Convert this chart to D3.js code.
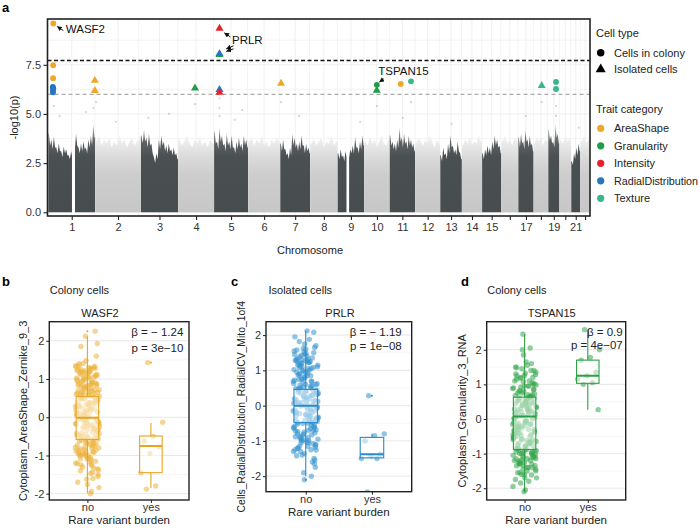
<!DOCTYPE html>
<html><head><meta charset="utf-8">
<script src="https://cdn.jsdelivr.net/npm/d3@7"></script>
<style>body{margin:0;background:#fff}svg{display:block;font-family:"Liberation Sans",Arial,Helvetica,sans-serif}</style>
</head><body><svg id="chart" width="700" height="528"></svg>
<script>
// ---------------- DATA ----------------
const chromosomes = ["1","2","3","4","5","6","7","8","9","10","11","12","13","14","15","16","17","18","19","20","21","22"];
const chrLengthMb = [249.25,243.2,198.0,191.15,180.9,171.1,159.1,146.4,141.2,135.5,135.0,133.85,115.2,107.35,102.5,90.35,81.2,78.1,59.1,63.0,48.1,51.3];
const chrTickLabels = ["1","2","3","4","5","6","7","8","9","10","11","12","13","14","15","","17","","19","","21",""];
// upper edge of the dense background cloud (-log10 p), read per chromosome from left to right
const skyline = [
  [4.0,3.4,3.7,3.2,3.85,3.3,3.3,3.0,3.5,3.1,3.1,2.8,3.35,3.0,3.2,2.9,2.9,2.7,3.1,2.8,3.6,3.2,4.0,3.4,3.3,3.0,3.5,3.1,3.6,3.2,3.3,3.0,3.7,3.3,3.9,3.4,4.5,3.8],
  [3.6,3.9,3.4,3.7,3.5,3.8,3.3,3.6,3.4,3.9,3.5,3.7,3.3,3.6,3.8,3.4,3.6,3.9],
  [3.9,3.5,4.2,3.6,3.8,3.3,4.0,3.4,3.5,3.0,2.8,2.5,3.0,2.7,3.7,3.2,3.9,3.4,3.6,3.1,3.4,3.0,3.5,3.1,3.2,2.9,3.3,2.9,3.0,2.7],
  [3.7,3.4,3.6,3.9,3.5,3.3,3.7,3.5,3.8,3.4,3.6,3.3,3.7,3.5],
  [4.1,3.5,3.6,3.2,4.3,3.6,3.9,3.4,3.5,3.1,4.0,3.4,3.6,3.2,3.9,3.3,3.3,3.0,3.6,3.2,3.8,3.3,3.5,3.1,3.9,3.4,3.7,3.3],
  [3.6,3.8,3.4,3.7,3.5,3.9,3.4,3.6,3.3,3.7,3.5,3.8,3.6],
  [3.5,3.1,3.7,3.2,3.2,2.9,3.0,2.7,3.3,2.9,4.0,3.4,3.8,3.3,3.5,3.1,3.6,3.2,3.9,3.4,3.4,3.0,3.5,3.1,3.3,3.0],
  [3.5,3.7,3.4,3.6,3.8,3.3,3.6,3.5,3.9,3.4,3.6],
  [3.0,2.7,3.2,2.8,2.9,2.6,3.1,2.8,3.0,2.8,3.2,3.0,3.4,3.0,3.8,3.3,3.3,3.0,3.6,3.2,3.9,3.4],
  [3.6,3.4,3.8,3.5,3.7,3.3,3.6,3.9,3.5,3.4,3.7],
  [3.9,3.4,3.6,3.2,3.5,3.1,3.7,3.3,4.3,3.6,3.8,3.3,4.0,3.5,3.6,3.2,3.9,3.4,3.7,3.3,3.5,3.1],
  [3.5,3.8,3.6,3.4,3.7,3.5,3.9,3.6,3.3,3.7,3.5],
  [2.9,2.6,3.3,2.9,3.0,2.7,3.5,3.0,3.9,3.3,3.4,3.0,3.2,2.9,3.6,3.1,3.0,2.7],
  [3.4,3.7,3.5,3.8,3.4,3.6,3.5,3.9,3.6],
  [3.0,2.7,3.2,2.9,3.4,3.0,3.3,2.9,3.6,3.2,3.9,3.4,3.7,3.3,3.4,3.0],
  [3.6,3.9,3.5,3.7,3.4,3.8,3.6],
  [3.8,3.3,4.0,3.5,3.6,3.2,4.2,3.6,3.7,3.3,3.9,3.4,3.5,3.1],
  [3.5,3.8,3.6,3.9,3.4,3.7,3.6],
  [4.2,3.7,3.9,3.5,3.6,3.3,4.5,3.8,4.0,3.5],
  [3.7,3.5,3.9,3.6,3.8],
  [2.6,2.4,3.0,2.7,3.3,2.9,3.5,3.1],
  [3.6,3.9,3.5,3.7]
];
const gapChr = [1, 9];
const gapStartMb = [126, 47];
const gapEndMb = [142, 61];
const yTicksA = [0, 2.5, 5, 7.5];
const genomeWideLine = 7.72;
const suggestiveLine = 6.0;
// significant hits: chromosome, position (Mb), -log10(p), trait category, cell type (0 colony, 1 isolated)
const hits = [
  [1, 26.8, 9.60, "AreaShape", 0],
  [1, 26.0, 7.48, "AreaShape", 0],
  [1, 25.5, 6.82, "AreaShape", 0],
  [1, 24.0, 6.38, "RadialDistribution", 0],
  [1, 26.5, 6.30, "RadialDistribution", 0],
  [1, 25.0, 6.22, "RadialDistribution", 0],
  [1, 24.6, 6.10, "RadialDistribution", 0],
  [1, 247.5, 6.70, "AreaShape", 1],
  [1, 247.5, 6.19, "AreaShape", 1],
  [4, 90.0, 6.31, "Granularity", 1],
  [5, 29.0, 9.35, "Intensity", 1],
  [5, 29.0, 8.02, "Granularity", 1],
  [5, 29.0, 8.06, "RadialDistribution", 1],
  [5, 29.0, 6.24, "RadialDistribution", 1],
  [5, 29.0, 6.10, "Intensity", 1],
  [7, 4.4, 6.55, "AreaShape", 1],
  [10, 67.0, 6.48, "Granularity", 0],
  [10, 67.0, 6.20, "Granularity", 1],
  [11, 58.8, 6.53, "AreaShape", 0],
  [11, 113.6, 6.66, "Texture", 0],
  [18, 43.3, 6.44, "Texture", 1],
  [19, 41.3, 6.63, "Texture", 0],
  [19, 41.3, 6.27, "Texture", 0]
];
// faint background points above the dense cloud: chromosome, Mb, -log10(p)
const faintHits = [
  [1,30,5.4],[1,60,4.9],[1,200,5.1],[1,240,5.3],[2,5,5.6],[2,110,4.6],[3,40,4.8],[3,150,5.0],
  [4,90,5.5],[5,29,5.8],[5,29,5.3],[5,29,4.9],[5,110,4.7],[5,150,5.2],[7,4,5.6],[7,100,4.9],
  [9,120,4.6],[10,67,5.4],[11,70,4.8],[11,113,5.6],[13,60,4.5],[17,40,4.9],[18,43,5.6],
  [19,41,5.4],[19,41,4.9],[21,40,4.3]
];
const geneLabels = ["WASF2", "PRLR", "TSPAN15"];
const traitCategories = ["AreaShape","Granularity","Intensity","RadialDistribution","Texture"];
const traitColors = ["#EEA72A","#1F9E49","#E8202B","#2676C2","#3BB58E"];
const cellTypes = ["Cells in colony","Isolated cells"];

// box plots
const burden = ["no","yes"];
const boxTicks = [-2,-1,0,1,2];
const wasf2No = [0.12,-0.43,1.27,0.58,-0.86,0.03,-1.21,0.91,-0.27,0.44,1.05,-0.62,0.21,-0.08,1.32,-1.47,0.67,-0.35,0.83,-0.94,0.36,1.18,-0.15,-0.71,0.52,2.25,-1.02,0.09,0.77,-0.51,1.93,-0.22,0.31,-1.33,0.98,-0.79,0.15,1.12,-0.04,-1.62,0.62,-0.39,1.41,-0.57,0.26,-0.97,0.71,2.12,-0.18,-1.12,0.48,0.87,-0.68,1.24,-0.31,0.05,-1.84,0.39,-0.83,1.08,0.18,-0.47,-1.27,0.95,-0.11,0.57,1.36,-0.75,-0.25,0.29,-1.06,0.81,1.6,-0.55,0.11,-0.9,0.66,-1.38,1.2,-0.02,0.42,-0.66,1.02,-1.94,0.24,-0.36,0.74,-0.87,1.3,-0.13,0.55,-1.17,1.85,-0.48,0.33,-0.73,0.92,-0.06,-1.55,0.61,1.15,-0.29,-0.98,0.19,1.27,-0.6,0.46,-1.76,0.84,-0.2,0.07,-0.8,1.0,-1.09,0.36,1.48,-0.41,0.69,-1.3,0.14,-0.53,0.88,-0.92,1.22,-0.16,-2.0,0.5,-0.7,1.1,0.27,-1.44,0.79,-0.33,0.02,-1.0,1.33,-0.58,0.6,-1.23,0.93,-0.09,
  0.35,-0.45,1.05,-0.85,0.72,-0.2,1.25,-1.15,0.15,0.95,-0.6,0.5,-1.35,1.15,-0.05,0.62,-0.78,1.35,0.22,-0.98,0.83,-0.32,0.4,-1.6,1.0,-0.12,0.68,-0.52,1.28,-0.9,0.05,0.88,-0.4,1.1,-1.05,0.3,-0.68,0.75,-0.25,1.2,-1.25,0.45,-0.15,0.98,-0.75,0.58,-1.5,1.3,0.1,-0.55,0.8,-0.88,0.25,1.18,-0.35,-1.1,0.7,-0.62,1.05,-0.18,0.38,-1.4,0.9,-0.45,1.22,-0.8,0.02,0.65,-1.0,1.4,-0.28,0.48,-1.2,0.85,-0.5,1.12,-0.08,-1.7,0.55,-0.95];
const wasf2Yes = [1.43,-0.13,-0.5,-0.62,-0.78,-0.95,-1.45,-1.8,-1.88];
const wasf2BoxNo = [-1.99,-0.58,-0.01,0.54,2.12];   // lower whisker, Q1, median, Q3, upper whisker
const wasf2BoxYes = [-1.85,-1.45,-0.75,-0.49,-0.15];
const wasf2OutNo = [2.25], wasf2OutYes = [1.43];

const prlrNo = [0.08,-0.35,1.22,0.47,-0.62,1.75,-0.12,0.85,-1.05,0.31,1.4,-0.48,0.02,-0.81,0.63,1.88,-0.22,-1.18,0.95,0.17,-0.56,1.3,-0.05,-0.91,0.38,2.08,-1.36,0.72,-0.28,1.12,-0.68,0.24,1.58,-1.6,0.53,-0.15,-0.99,0.89,1.65,-0.41,0.11,-1.25,0.76,-0.02,1.26,-0.74,0.42,-1.9,1.02,-0.31,0.58,-1.12,1.48,-0.19,0.29,-0.85,1.15,-0.5,0.05,-1.5,0.81,1.95,-0.65,0.35,-0.09,-1.03,1.33,-0.38,0.66,-1.3,0.19,1.08,-0.77,-0.25,0.49,-2.0,1.2,-0.45,0.92,-1.21,0.13,1.52,-0.59,0.27,-0.88,1.7,-0.03,-1.42,0.56,1.0,-0.33,-0.7,0.74,-1.65,0.21,1.28,-0.14,-0.95,0.44,2.12,-0.52,-1.08,0.98,0.07,-0.4,1.38,-1.75,0.6,-0.21,-0.83,1.1,0.33,-1.15,0.86,-0.6,-2.1,1.45,-0.08,0.5,-1.26,0.15,1.25,-0.47,-0.97,0.69,-0.27,1.82,-1.55,0.4,-0.72,1.05,-0.01,
  0.62,-0.3,1.15,-0.7,0.25,1.55,-0.45,0.9,-1.1,0.4,1.3,-0.2,0.75,-0.95,1.05,0.1,-0.55,1.45,-1.25,0.5,1.2,-0.35,0.85,-0.8,0.3,1.62,-0.62,1.0,-1.15,0.15,1.28,-0.42,0.7,-1.0,1.1,-0.12,0.45,1.5,-0.75,0.2,1.25,-1.3,0.6,-0.25,0.95,1.35,-0.5,0.35,-1.05,1.18,-0.15,0.8,-0.88,0.55,1.42,-0.38,0.05,-1.2,1.08,0.28,-0.65,1.22,-0.92,0.42,1.6,-0.28,0.68,-1.4,0.12,1.32];
const prlrYes = [0.28,-0.8,-0.85,-1.0,-1.38,-1.42,-1.5,-1.5,-2.45];
const prlrBoxNo = [-2.0,-0.48,0.0,0.46,2.12];
const prlrBoxYes = [-1.5,-1.48,-1.38,-0.9,-0.8];
const prlrOutNo = [-2.1], prlrOutYes = [0.28,-2.45];

const tspan15No = [0.1,-0.92,0.55,-0.3,1.2,-1.35,0.28,-0.66,0.82,-1.1,-0.05,1.48,-1.62,0.4,-0.45,0.95,-0.85,0.18,-1.25,0.68,2.05,-0.2,-1.5,0.35,-0.75,1.05,-0.98,0.02,-1.8,0.6,-0.38,1.32,-1.15,0.22,-0.58,0.88,-1.4,-0.12,0.48,-2.1,1.1,-0.7,0.3,-1.02,1.65,-0.25,-1.3,0.75,-0.52,0.12,-0.9,1.4,-1.7,0.44,-0.15,-1.2,0.98,-0.62,0.26,-1.05,1.85,-0.35,0.58,-1.55,0.06,-0.8,1.15,-0.45,0.38,-1.95,0.7,-0.28,-1.08,1.25,0.15,-0.68,0.92,-1.45,-0.08,0.52,-0.95,2.45,-0.55,0.2,-1.28,1.02,-0.18,-0.86,0.63,-1.6,0.33,1.55,-0.4,-1.12,0.8,0.0,-0.72,1.18,-1.35,0.46,-0.22,-0.98,2.0,-0.6,0.25,-1.22,0.85,-0.1,-1.75,0.65,-0.48,1.35,-0.88,0.08,-1.4,1.08,-0.32,0.42,-1.0,0.72,-2.05,0.18,-0.65,1.45,-0.15,-1.15,0.55,-0.78,0.95,-0.42,0.3,-1.85,1.28,-0.05,
  -0.5,0.45,-1.1,0.9,-0.3,-1.3,0.6,-0.8,1.3,-0.15,-1.0,0.35,-1.5,0.75,-0.6,0.1,-1.2,1.1,-0.4,-0.9,0.5,-1.35,1.6,-0.25,-1.05,0.25,-0.7,0.85,-1.6,0.05,-0.5,1.2,-1.15,0.4,-0.85,0.7,-1.45,-0.1,0.95,-1.25,-0.35,0.55,-0.95,1.4,-0.6,-1.7,0.3,-0.2,1.0,-1.1,-0.45,0.65,-1.3,0.15,-0.75,1.25,-1.0,0.45,-0.55,-1.4,0.8,-0.3,-0.9,1.5,-1.2,0.2,-0.65,0.6,-1.55,0.0];
const tspan15Yes = [2.58,2.0,1.78,1.7,1.35,1.25,1.15,1.05,1.0,0.27];
const tspan15BoxNo = [-2.1,-0.88,0.07,0.63,2.45];
const tspan15BoxYes = [0.27,1.03,1.25,1.7,2.58];
const tspan15OutNo = [], tspan15OutYes = [];

// ---------------- DRAW ----------------
const svg = d3.select("#chart");
svg.append("rect").attr("width",700).attr("height",528).attr("fill","#fff");
const defs = svg.append("defs");
const TXT = "#333";

// ===== Panel a =====
const A = {left:47.5, right:590, top:19, bottom:216};
const chrStart = chrLengthMb.map((d,i)=>d3.sum(chrLengthMb.slice(0,i)));
const genomeLen = d3.sum(chrLengthMb);
const xA = d3.scaleLinear().domain([0, genomeLen]).range([48.3, 589.9]);
const yA = d3.scaleLinear().domain([-0.19, 9.83]).range([A.bottom, A.top]);
const gx = (c, mb) => xA(chrStart[c-1] + mb);
const colorOf = d3.scaleOrdinal().domain(traitCategories).range(traitColors);

defs.append("clipPath").attr("id","clipA").append("rect")
  .attr("x",A.left).attr("y",A.top).attr("width",A.right-A.left).attr("height",A.bottom-A.top);
const darkG = defs.append("linearGradient").attr("id","darkGrad").attr("gradientUnits","userSpaceOnUse")
  .attr("x1",0).attr("x2",0).attr("y1",yA(0)).attr("y2",yA(4.8));
[[0,"#474c4e"],[0.58,"#4a4f51"],[0.74,"#5c6062"],[0.87,"#9c9ea0"],[1,"#ececec"]]
  .forEach(s=>darkG.append("stop").attr("offset",s[0]).attr("stop-color",s[1]));
const lightG = defs.append("linearGradient").attr("id","lightGrad").attr("gradientUnits","userSpaceOnUse")
  .attr("x1",0).attr("x2",0).attr("y1",yA(0)).attr("y2",yA(4.3));
[[0,"#c7c7c7"],[0.45,"#cdcdcd"],[0.65,"#dadada"],[0.85,"#eeeeee"],[1,"#fbfbfb"]]
  .forEach(s=>lightG.append("stop").attr("offset",s[0]).attr("stop-color",s[1]));
const mk = defs.append("marker").attr("id","arr").attr("viewBox","0 0 10 10").attr("refX",9).attr("refY",5)
  .attr("markerWidth",5).attr("markerHeight",5).attr("markerUnits","userSpaceOnUse").attr("orient","auto");
mk.append("path").attr("d","M0,0L10,5L0,10z").attr("fill","#111");

const gA = svg.append("g");
const plotA = gA.append("g").attr("clip-path","url(#clipA)");
// grid
const chrCenters = chrLengthMb.map((L,i)=>chrStart[i]+L/2);
const chrMids = chrCenters.slice(1).map((c,i)=>(c+chrCenters[i])/2);
plotA.selectAll(".vgridm").data(chrMids).join("line")
  .attr("x1",d=>xA(d)).attr("x2",d=>xA(d)).attr("y1",A.top).attr("y2",A.bottom)
  .attr("stroke","#ededed").attr("stroke-width",0.6);
plotA.selectAll(".vgrid").data(chrCenters).join("line")
  .attr("x1",d=>xA(d)).attr("x2",d=>xA(d)).attr("y1",A.top).attr("y2",A.bottom)
  .attr("stroke","#ececec").attr("stroke-width",0.8);
plotA.selectAll(".hgridm").data(yTicksA.map(t=>t+1.25)).join("line")
  .attr("x1",A.left).attr("x2",A.right).attr("y1",d=>yA(d)).attr("y2",d=>yA(d))
  .attr("stroke","#ededed").attr("stroke-width",0.6);
plotA.selectAll(".hgrid").data(yTicksA).join("line")
  .attr("x1",A.left).attr("x2",A.right).attr("y1",d=>yA(d)).attr("y2",d=>yA(d))
  .attr("stroke","#ececec").attr("stroke-width",0.8);

// dense background
const area = d3.area().x(d=>xA(d[0])).y0(yA(0)).y1(d=>yA(d[1])).curve(d3.curveLinear);
skyline.forEach((v,i)=>{
  const s = chrStart[i], L = chrLengthMb[i], n = v.length;
  const pts = [[s+0.3, v[0]]].concat(v.map((h,j)=>[s+L*(j+0.5)/n, h])).concat([[s+L-0.3, v[n-1]]]);
  plotA.append("path").datum(pts).attr("d", area)
    .attr("fill", i%2===0 ? "url(#darkGrad)" : "url(#lightGrad)");
});
gapChr.forEach((c,k)=>{
  plotA.append("rect").attr("x",gx(c,gapStartMb[k])).attr("width",gx(c,gapEndMb[k])-gx(c,gapStartMb[k]))
    .attr("y",yA(5)).attr("height",yA(-0.1)-yA(5)).attr("fill","#fff");
});
plotA.selectAll(".faint").data(faintHits).join("circle")
  .attr("cx",d=>gx(d[0],d[1])).attr("cy",d=>yA(d[2])).attr("r",1.1)
  .attr("fill","#888").attr("opacity",0.35);

// threshold lines
plotA.append("line").attr("x1",A.left).attr("x2",A.right).attr("y1",yA(suggestiveLine)).attr("y2",yA(suggestiveLine))
  .attr("stroke","#aaaaaa").attr("stroke-width",1.3).attr("stroke-dasharray","4,3");
plotA.append("line").attr("x1",A.left).attr("x2",A.right).attr("y1",yA(genomeWideLine)).attr("y2",yA(genomeWideLine))
  .attr("stroke","#111").attr("stroke-width",1.5).attr("stroke-dasharray","4,2.5");

// hits
const circleSym = d3.symbol().type(d3.symbolCircle).size(27);
const triSym = d3.symbol().type(d3.symbolTriangle).size(28);
plotA.selectAll(".hit").data(hits).join("path")
  .attr("transform",d=>`translate(${gx(d[0],d[1])},${yA(d[2])})`)
  .attr("d",d=>d[4]===0?circleSym():triSym())
  .attr("fill",d=>colorOf(d[3]));

// gene annotations
const hitW = hits[0], hitP = hits[10], hitP2 = hits[12], hitT = hits[16];
const annot = gA.append("g").attr("font-size","11.5px").attr("fill","#111");
function arrow(x1,y1,x2,y2){
  gA.append("line").attr("x1",x1).attr("y1",y1).attr("x2",x2).attr("y2",y2)
    .attr("stroke","#111").attr("stroke-width",1).attr("marker-end","url(#arr)");
}
{
  const px = gx(hitW[0],hitW[1]), py = yA(hitW[2]);
  arrow(px+10,py+7,px+4,py+3);
  annot.append("text").attr("x",px+12.5).attr("y",py+9).text(geneLabels[0]);
}
{
  const px = gx(hitP[0],hitP[1]), py = yA(hitP[2]);
  arrow(px+11,py+8.5,px+5,py+4.5);
  annot.append("text").attr("x",px+12.5).attr("y",py+16).text(geneLabels[1]);
  const qy = yA(hitP2[2]);
  arrow(px+14,qy-8,px+7,qy-5);
  arrow(px+14,qy-5,px+7,qy-2.5);
}
{
  const px = gx(hitT[0],hitT[1]), py = yA(hitT[2]);
  arrow(px+7,py-6,px+2.8,py-3);
  annot.append("text").attr("x",px+1.5).attr("y",py-9.5).text(geneLabels[2]);
}

// frame & axes
gA.append("rect").attr("x",A.left).attr("y",A.top).attr("width",A.right-A.left).attr("height",A.bottom-A.top)
  .attr("fill","none").attr("stroke","#222").attr("stroke-width",1.6);
const yAxA = gA.append("g").attr("transform",`translate(${A.left},0)`)
  .call(d3.axisLeft(yA).tickValues(yTicksA).tickFormat(d3.format(".1f")).tickSize(4).tickPadding(2.5));
const xAxA = gA.append("g").attr("transform",`translate(0,${A.bottom})`)
  .call(d3.axisBottom(xA).tickValues(chrCenters).tickFormat((d,i)=>chrTickLabels[i]).tickSize(4).tickPadding(3));
[yAxA,xAxA].forEach(ax=>{
  ax.select(".domain").remove();
  ax.selectAll(".tick line").attr("stroke","#222").attr("stroke-width",1.1);
  ax.selectAll("text").attr("fill",TXT).attr("font-size","11px").attr("font-family","Liberation Sans, Arial, sans-serif");
});
gA.append("text").attr("transform",`translate(18,${(A.top+A.bottom)/2}) rotate(-90)`)
  .attr("text-anchor","middle").attr("font-size","11px").attr("fill","#222").text("-log10(p)");
gA.append("text").attr("x",310).attr("y",254).attr("text-anchor","middle")
  .attr("font-size","11px").attr("fill","#222").text("Chromosome");

// legend
const lg = svg.append("g").attr("font-size","11px").attr("fill","#222");
lg.append("text").attr("x",596).attr("y",37).text("Cell type");
cellTypes.forEach((t,i)=>{
  const yy = 52.7 + i*16.6;
  lg.append("path").attr("transform",`translate(600.7,${yy})`)
    .attr("d", i===0 ? d3.symbol().type(d3.symbolCircle).size(44)() : d3.symbol().type(d3.symbolTriangle).size(44)())
    .attr("fill","#000");
  lg.append("text").attr("x",614).attr("y",yy+4).text(t);
});
lg.append("text").attr("x",596).attr("y",113).text("Trait category");
traitCategories.forEach((t,i)=>{
  const yy = 128.3 + i*17.5;
  lg.append("circle").attr("cx",600.7).attr("cy",yy).attr("r",3.6).attr("fill",traitColors[i]);
  const tx = lg.append("text").attr("x",614).attr("y",yy+4).text(t);
  const w = tx.node().getComputedTextLength();
  if (w > 84) tx.attr("font-size", (11*84/w).toFixed(2)+"px");
});

// panel letters
svg.append("g").attr("font-size","13px").attr("font-weight","bold").attr("fill","#000")
  .selectAll("text").data([["a",2,12],["b",2,286],["c",231,286],["d",461,286]]).join("text")
  .attr("x",d=>d[1]).attr("y",d=>d[2]).text(d=>d[0]);

// ===== Box plot panels =====
function boxPanel(c){
  const g = svg.append("g");
  const x = d3.scalePoint().domain(burden).range([c.x0,c.x1]).padding(0.6);
  const y = d3.scaleLinear().domain(c.yDomain).range([c.y1,c.y0]);
  const step = x.step(), bw = step*0.355, jw = step*0.19;
  const id = "clip"+c.name;
  defs.append("clipPath").attr("id",id).append("rect").attr("x",c.x0).attr("y",c.y0)
    .attr("width",c.x1-c.x0).attr("height",c.y1-c.y0);
  const p = g.append("g").attr("clip-path",`url(#${id})`);
  const minor = boxTicks.map(t=>t+0.5).concat([boxTicks[0]-0.5]);
  p.selectAll(".mn").data(minor).join("line").attr("x1",c.x0).attr("x2",c.x1)
    .attr("y1",d=>y(d)).attr("y2",d=>y(d)).attr("stroke","#f0f0f0").attr("stroke-width",0.6);
  p.selectAll(".mj").data(boxTicks).join("line").attr("x1",c.x0).attr("x2",c.x1)
    .attr("y1",d=>y(d)).attr("y2",d=>y(d)).attr("stroke","#e4e4e4").attr("stroke-width",0.9);
  const groups = [[c.no,c.boxNo,c.outNo],[c.yes,c.boxYes,c.outYes]];
  groups.forEach(([vals,bx,outs],gi)=>{
    const cx = x(burden[gi]);
    p.selectAll(".pt"+gi).data(vals).join("circle")
      .attr("cx",(d,i)=>cx + jw*(((i*0.6180339+0.37)%1)*2-1))
      .attr("cy",d=>y(d)).attr("r",2.7).attr("fill",c.pt).attr("opacity",0.55);
  });
  groups.forEach(([vals,bx,outs],gi)=>{
    const cx = x(burden[gi]);
    const [lo,q1,med,q3,hi] = bx;
    p.append("line").attr("x1",cx).attr("x2",cx).attr("y1",y(hi)).attr("y2",y(q3)).attr("stroke",c.col).attr("stroke-width",1.1);
    p.append("line").attr("x1",cx).attr("x2",cx).attr("y1",y(q1)).attr("y2",y(lo)).attr("stroke",c.col).attr("stroke-width",1.1);
    p.append("rect").attr("x",cx-bw/2).attr("width",bw).attr("y",y(q3)).attr("height",y(q1)-y(q3))
      .attr("fill","#fff").attr("fill-opacity",0.5).attr("stroke",c.col).attr("stroke-width",1.1);
    p.append("line").attr("x1",cx-bw/2).attr("x2",cx+bw/2).attr("y1",y(med)).attr("y2",y(med))
      .attr("stroke",c.col).attr("stroke-width",2);
    p.selectAll(".o"+gi).data(outs).join("circle").attr("cx",cx).attr("cy",d=>y(d)).attr("r",1)
      .attr("fill",c.col);
  });
  g.append("rect").attr("x",c.x0).attr("y",c.y0).attr("width",c.x1-c.x0).attr("height",c.y1-c.y0)
    .attr("fill","none").attr("stroke","#222").attr("stroke-width",1.4);
  const ay = g.append("g").attr("transform",`translate(${c.x0},0)`)
    .call(d3.axisLeft(y).tickValues(boxTicks).tickFormat(d3.format("d")).tickSize(3).tickPadding(2));
  const ax = g.append("g").attr("transform",`translate(0,${c.y1})`)
    .call(d3.axisBottom(x).tickSize(3).tickPadding(0.5));
  [ay,ax].forEach(a=>{
    a.select(".domain").remove();
    a.selectAll(".tick line").attr("stroke","#222");
    a.selectAll("text").attr("fill",TXT).attr("font-size","11px").attr("font-family","Liberation Sans, Arial, sans-serif");
  });
  ay.selectAll("text").text(d=>d<0?"-"+Math.abs(d):d);
  const t = g.append("g").attr("font-size","11px").attr("fill","#222");
  t.append("text").attr("x",c.x0+0.5+c.subDx).attr("y",293.5).text(c.sub);
  t.append("text").attr("x",c.titleX).attr("y",316.7).attr("text-anchor","middle").text(c.gene);
  t.append("text").attr("x",c.statX).attr("y",335.5).attr("text-anchor","end").attr("font-size","11.5px").text(c.beta);
  t.append("text").attr("x",c.statX).attr("y",335.5+c.pGap).attr("text-anchor","end").attr("font-size","11.5px").text(c.p);
  t.append("text").attr("x",(c.x0+c.x1)/2).attr("y",c.y1+24).attr("text-anchor","middle").attr("font-size","11.5px").text("Rare variant burden");
  t.append("text").attr("transform",`translate(${c.ylabX},${(c.y0+c.y1)/2}) rotate(-90)`)
    .attr("text-anchor","middle").attr("font-size",c.ylabSize).text(c.ylab);
}

boxPanel({name:"b", x0:49.3, x1:189, y0:321.7, y1:500, yDomain:[-2.165,2.5],
  col:"#E8A521", pt:"#EDB23A", no:wasf2No, yes:wasf2Yes, boxNo:wasf2BoxNo, boxYes:wasf2BoxYes,
  outNo:wasf2OutNo, outYes:wasf2OutYes, sub:"Colony cells", subDx:0, gene:"WASF2", titleX:100,
  beta:"β = − 1.24", p:"p = 3e−10", statX:183.3, pGap:16.2, ylab:"Cytoplasm_AreaShape_Zernike_9_3", ylabX:27, ylabSize:"11px"});
boxPanel({name:"c", x0:266, x1:411.7, y0:321.7, y1:491.7, yDomain:[-2.44,2.38],
  col:"#2A8ACB", pt:"#3593D0", no:prlrNo, yes:prlrYes, boxNo:prlrBoxNo, boxYes:prlrBoxYes,
  outNo:prlrOutNo, outYes:prlrOutYes, sub:"Isolated cells", subDx:2, gene:"PRLR", titleX:340,
  beta:"β = − 1.19", p:"p = 1e−08", statX:401.7, pGap:14.5, ylab:"Cells_RadialDistribution_RadialCV_Mito_1of4", ylabX:245, ylabSize:"10.4px"});
boxPanel({name:"d", x0:486.7, x1:625.7, y0:321.7, y1:500, yDomain:[-2.34,2.81],
  col:"#2E9E46", pt:"#34A64C", no:tspan15No, yes:tspan15Yes, boxNo:tspan15BoxNo, boxYes:tspan15BoxYes,
  outNo:tspan15OutNo, outYes:tspan15OutYes, sub:"Colony cells", subDx:0, gene:"TSPAN15", titleX:551.7,
  beta:"β = 0.9", p:"p = 4e−07", statX:622.7, pGap:13, ylab:"Cytoplasm_Granularity_3_RNA", ylabX:466, ylabSize:"11px"});
</script></body></html>
